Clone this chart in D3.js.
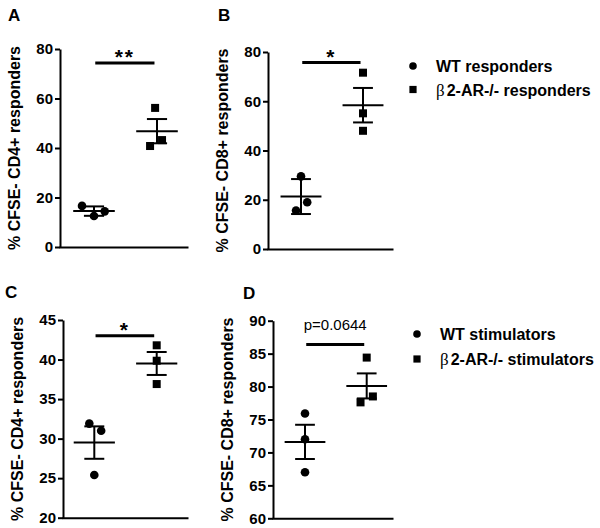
<!DOCTYPE html>
<html>
<head>
<meta charset="utf-8">
<script src="https://cdn.jsdelivr.net/npm/d3@7"></script>
<style>
  html, body { margin: 0; padding: 0; background: #fff; }
  svg { display: block; font-family: "Liberation Sans", Arial, sans-serif; }
</style>
</head>
<body>
<svg id="chart" width="600" height="528"></svg>
<script>
// ---------------- data ----------------
const panelNames = ["A", "B", "C", "D"];
const groups = ["WT", "β2-AR-/-"];
const yTitles = ["% CFSE- CD4+ responders", "% CFSE- CD8+ responders",
                 "% CFSE- CD4+ responders", "% CFSE- CD8+ responders"];
const yTicks = [[0, 20, 40, 60, 80], [0, 20, 40, 60, 80],
                [20, 25, 30, 35, 40, 45], [60, 65, 70, 75, 80, 85, 90]];
const wtValues = [[16.6, 12.5, 14.4], [29.5, 19.0, 15.6], [31.9, 31.0, 25.4], [75.9, 72.0, 67.0]];
const koValues = [[56.2, 43.2, 40.8], [71.6, 55.1, 48.0], [41.8, 39.85, 36.9], [84.4, 77.6, 78.5]];
const wtJitter = [[-0.19, 0, 0.17], [0, 0.1, -0.08], [-0.08, 0.11, 0], [0, 0, 0]];
const koJitter = [[-0.03, 0.08, -0.11], [0, 0, 0], [0, 0, 0], [0, -0.1, 0.1]];
const wtMean = [14.5, 21.3, 29.5, 71.6];
const wtErr = [1.9, 7.1, 2.05, 2.6];
const koMean = [46.8, 58.4, 39.5, 80.1];
const koErr = [4.9, 7.0, 1.45, 1.9];
const sigLabels = ["**", "*", "*", "p=0.0644"];
const sigLevel = [74.3, 75.7, 43.0, 86.4];
const legend1Labels = ["WT responders", "2-AR-/- responders"];
const legend2Labels = ["WT stimulators", "2-AR-/- stimulators"];

// ---------------- layout ----------------
const layout = [
  { ax: 60,  yTop: 49,    yBot: 247,   xEnd: 188, c0: 94,    c1: 157,   lx: 8,   ly: 21 },
  { ax: 268, yTop: 52,    yBot: 249,   xEnd: 393, c0: 301,   c1: 363,   lx: 218, ly: 21 },
  { ax: 63,  yTop: 320,   yBot: 517.7, xEnd: 188, c0: 94.3,  c1: 156.7, lx: 5,   ly: 298 },
  { ax: 273, yTop: 320.7, yBot: 518.3, xEnd: 393, c0: 305,   c1: 366.7, lx: 243, ly: 299 }
];
const svg = d3.select("#chart");
const meanHalf = 0.33, capHalf = 0.16;

panelNames.forEach((name, i) => {
  const L = layout[i];
  const ticks = yTicks[i];
  const y = d3.scaleLinear().domain([ticks[0], ticks[ticks.length - 1]]).range([L.yBot, L.yTop]);
  const x = d3.scaleLinear().domain([0, 1]).range([L.c0, L.c1]);
  const g = svg.append("g");

  // panel letter
  g.append("text").attr("x", L.lx).attr("y", L.ly)
    .attr("font-size", 17).attr("font-weight", "bold").text(name);

  // y axis
  const yAxis = d3.axisLeft(y).tickValues(ticks).tickSize(5).tickSizeOuter(0).tickPadding(2);
  const ya = g.append("g").attr("transform", `translate(${L.ax},0)`).call(yAxis);
  ya.select(".domain").attr("stroke", "#000").attr("stroke-width", 2);
  ya.selectAll(".tick line").attr("stroke", "#000").attr("stroke-width", 2);
  ya.selectAll(".tick text").attr("font-size", 15).attr("font-weight", "bold")
    .attr("fill", "#000").attr("font-family", "Liberation Sans, Arial, sans-serif");

  // x axis (no ticks)
  const xa = d3.scaleLinear().domain([0, 1]).range([L.ax - 1, L.xEnd]);
  g.append("g").attr("transform", `translate(0,${L.yBot})`)
    .call(d3.axisBottom(xa).tickValues([]).tickSizeOuter(0))
    .select(".domain").attr("stroke", "#000").attr("stroke-width", 2);

  // y title
  g.append("text")
    .attr("transform", `translate(${L.ax - 40},${(L.yTop + L.yBot) / 2}) rotate(-90)`)
    .attr("text-anchor", "middle").attr("font-size", 16).attr("font-weight", "bold")
    .text(yTitles[i]);

  // groups
  const sets = [
    { vals: wtValues[i], jit: wtJitter[i], mean: wtMean[i], err: wtErr[i], pos: 0, shape: "circle" },
    { vals: koValues[i], jit: koJitter[i], mean: koMean[i], err: koErr[i], pos: 1, shape: "square" }
  ];
  sets.forEach(s => {
    s.vals.forEach((v, k) => {
      const cx = x(s.pos + s.jit[k]), cy = y(v);
      if (s.shape === "circle") {
        g.append("circle").attr("cx", cx).attr("cy", cy).attr("r", 4.3).attr("fill", "#000");
      } else {
        g.append("rect").attr("x", cx - 4).attr("y", cy - 4).attr("width", 8).attr("height", 8).attr("fill", "#000");
      }
    });
    g.append("line").attr("x1", x(s.pos - meanHalf)).attr("x2", x(s.pos + meanHalf))
      .attr("y1", y(s.mean)).attr("y2", y(s.mean)).attr("stroke", "#000").attr("stroke-width", 2);
    g.append("line").attr("x1", x(s.pos)).attr("x2", x(s.pos))
      .attr("y1", y(s.mean - s.err)).attr("y2", y(s.mean + s.err)).attr("stroke", "#000").attr("stroke-width", 2);
    [s.mean - s.err, s.mean + s.err].forEach(v => {
      g.append("line").attr("x1", x(s.pos - capHalf)).attr("x2", x(s.pos + capHalf))
        .attr("y1", y(v)).attr("y2", y(v)).attr("stroke", "#000").attr("stroke-width", 2);
    });
  });

  // significance bar
  const sy = y(sigLevel[i]);
  g.append("line").attr("x1", x(0.02)).attr("x2", x(0.96)).attr("y1", sy).attr("y2", sy)
    .attr("stroke", "#000").attr("stroke-width", 3);
  const isP = sigLabels[i].startsWith("p");
  g.append("text").attr("x", x(0.49)).attr("y", isP ? sy - 14 : sy + 1)
    .attr("text-anchor", "middle").attr("font-size", isP ? 15 : 21)
    .attr("letter-spacing", isP ? 0 : 2)
    .attr("font-weight", isP ? "normal" : "bold").text(sigLabels[i]);
});

// legends
function drawLegend(labels, mx, tx, rows) {
  labels.forEach((lab, k) => {
    const cy = rows[k];
    if (k === 0) {
      svg.append("circle").attr("cx", mx).attr("cy", cy).attr("r", 3.8).attr("fill", "#000");
    } else {
      svg.append("rect").attr("x", mx - 3.6).attr("y", cy - 3.6).attr("width", 7.2).attr("height", 7.2).attr("fill", "#000");
    }
    const t = svg.append("text").attr("x", tx).attr("y", cy + 6).attr("font-size", 16).attr("font-weight", "bold");
    if (k === 1) {
      t.append("tspan").attr("font-family", "Liberation Serif, DejaVu Serif, serif")
        .attr("font-weight", "normal").attr("font-size", 17).text("β");
      t.append("tspan").attr("dx", 2).text(lab);
    } else {
      t.text(lab);
    }
  });
}
drawLegend(legend1Labels, 413, 436, [66, 89.5]);
drawLegend(legend2Labels, 417, 440, [334, 359]);
</script>
</body>
</html>
